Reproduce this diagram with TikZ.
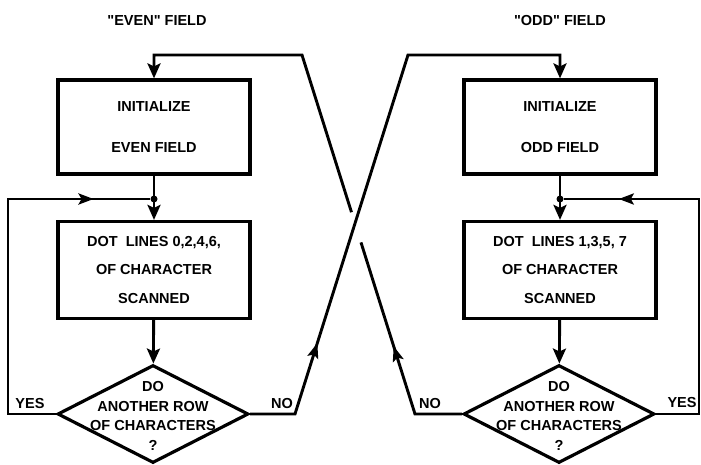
\documentclass[tikz,border=0pt]{standalone}
\usepackage{fontspec}
\setmainfont{Liberation Sans}
\usepackage{tikz}
\usetikzlibrary{arrows.meta,calc,shapes.geometric,decorations.markings}

\newcommand{\flowfont}{\fontsize{14.5}{17}\selectfont\bfseries}

\tikzset{
  fl/box/.style={
    draw=black,
    line width=3.2pt,
    fill=white,
    align=center,
    inner sep=0pt,
    minimum width=192pt,
    font=\flowfont
  },
  fl/ask/.style={
    diamond,
    draw=black,
    line width=3.2pt,
    fill=white,
    inner sep=0pt,
    minimum width=191pt,
    minimum height=98pt
  },
  fl/asktext/.style={align=center, font=\fontsize{14.5}{19.5}\selectfont\bfseries},
  fl/label/.style={font=\flowfont},
  fl/line/.style={line width=2.9pt, draw=black, line join=miter},
  fl/arrow/.style={fl/line, -{Stealth[length=15pt,width=13pt,inset=3pt]}},
  fl/arrowat/.style={
    postaction={decorate},
    decoration={markings,
      mark=at position #1 with {\arrow{Stealth[length=15pt,width=11pt,inset=3pt]}}}
  },
  fl/dot/.style={circle, fill=black, inner sep=0pt, minimum size=7pt}
}

\begin{document}
\begin{tikzpicture}[x=1pt,y=-1pt]
  \useasboundingbox (0,0) rectangle (701,465);

  % titles
  \node[fl/label] (titleE) at (157,21) {\textquotedbl EVEN\textquotedbl\ FIELD};
  \node[fl/label] (titleO) at (560,21) {\textquotedbl ODD\textquotedbl\ FIELD};

  % even field
  \node[fl/box, minimum height=94pt] (initE) at (154,127) {INITIALIZE\\[24pt]EVEN FIELD};
  \node[fl/box, minimum height=97pt] (dotE) at (154,270) {DOT\ \ LINES 0,2,4,6,\\[11.5pt]OF CHARACTER\\[11.5pt]SCANNED};
  \node[fl/ask] (askE) at (153,414) {};
  \node[fl/asktext] (askEtxt) at (153,416) {DO\\ANOTHER ROW\\OF CHARACTERS\\?};
  \node[fl/dot] (joinE) at (154,199) {};

  % odd field
  \node[fl/box, minimum height=94pt] (initO) at (560,127) {INITIALIZE\\[24pt]ODD FIELD};
  \node[fl/box, minimum height=97pt] (dotO) at (560,270) {DOT\ \ LINES 1,3,5, 7\\[11.5pt]OF CHARACTER\\[11.5pt]SCANNED};
  \node[fl/ask] (askO) at (559,414) {};
  \node[fl/asktext] (askOtxt) at (559,416) {DO\\ANOTHER ROW\\OF CHARACTERS\\?};
  \node[fl/dot] (joinO) at (560,199) {};

  % corners of the loops
  \coordinate (yesE) at (8,414);
  \coordinate (backE) at (8,199);
  \coordinate (noE) at (295,414);
  \coordinate (bendO) at (408,55);
  \coordinate (topO) at (560,55);
  \coordinate (yesO) at (699,414);
  \coordinate (backO) at (699,199);
  \coordinate (noO) at (415,414);
  \coordinate (bendE) at (302,55);
  \coordinate (topE) at (154,55);

  % straight runs
  \draw[fl/arrow] (initE) -- (dotE);
  \draw[fl/arrow] (dotE) -- (askE);
  \draw[fl/arrow] (initO) -- (dotO);
  \draw[fl/arrow] (dotO) -- (askO);

  % yes loops
  \draw[fl/line, fl/arrowat=0.86] (askE.west) -- (yesE) -- (backE) -- (joinE);
  \draw[fl/line, fl/arrowat=0.86] (askO.east) -- (yesO) -- (backO) -- (joinO);
  \node[fl/label] (yesElbl) at (30,404) {YES};
  \node[fl/label] (yesOlbl) at (682,403) {YES};

  % no: even goes over to odd
  \draw[fl/arrow, fl/arrowat=0.2] (askE.east) -- (noE) -- (bendO) -- (topO) -- (initO.north);
  \node[fl/label] (noElbl) at (282,404) {NO};

  % no: odd goes back to even, broken where the lines cross
  \draw[fl/line, fl/arrowat=0.52] (askO.west) -- (noO) -- ($(noO)!0.478!(bendE)$);
  \draw[fl/arrow] ($(noO)!0.562!(bendE)$) -- (bendE) -- (topE) -- (initE.north);
  \node[fl/label] (noOlbl) at (430,404) {NO};
\end{tikzpicture}
\end{document}
